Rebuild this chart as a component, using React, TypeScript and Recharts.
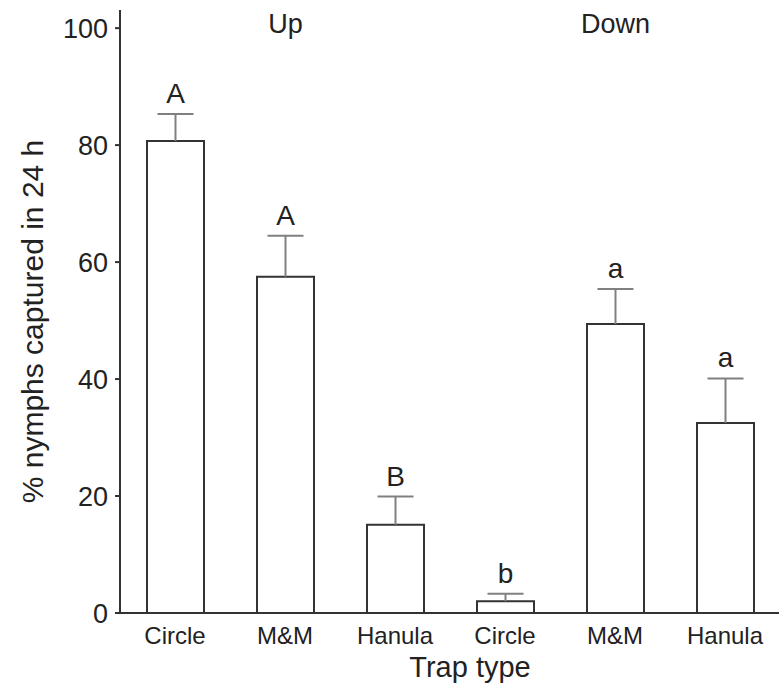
import { BarChart, Bar, XAxis, YAxis, LabelList, Label } from 'recharts'

const trapTypes = ['Circle', 'M&M', 'Hanula', 'Circle', 'M&M', 'Hanula']
const groupNames = ['', 'Up', '', '', 'Down', '']
const meanCaptured = [80.7, 57.5, 15.1, 2.0, 49.4, 32.5]
const stdError = [4.6, 7.0, 4.8, 1.3, 6.0, 7.6]
const letters = ['A', 'A', 'B', 'b', 'a', 'a']
const yTicks = [0, 20, 40, 60, 80, 100]

const FONT = '"Liberation Sans", Arial, Helvetica, sans-serif'
const INK = '#222'

const data = trapTypes.map((trap, i) => ({
  trap,
  group: groupNames[i],
  mean: meanCaptured[i],
  se: stdError[i],
  letter: letters[i],
}))

// upper whisker only, drawn as the stacked segment sitting on each bar
function Whisker(props: any) {
  const { x, y, width, height } = props
  const cx = x + width / 2
  return (
    <g stroke="#808080" strokeWidth={2}>
      <line x1={cx} y1={y + height} x2={cx} y2={y} />
      <line x1={cx - 18} y1={y} x2={cx + 18} y2={y} />
    </g>
  )
}

// "Up" / "Down" headings over the middle bar of each group
function GroupLabel(props: any) {
  const { x, width, value } = props
  if (!value) return null
  return (
    <text x={x + width / 2} y={33} textAnchor="middle" fontSize={27} fontFamily={FONT} fill={INK}>
      {value}
    </text>
  )
}

export default function App() {
  return (
    <div style={{ position: 'absolute', left: 0, top: 0, background: '#fff' }}>
      <BarChart
        width={779}
        height={688}
        data={data}
        margin={{ top: 10, right: -1, left: 0, bottom: 0 }}
      >
        <XAxis
          dataKey="trap"
          height={75}
          tickLine={false}
          tickSize={6}
          tickMargin={8}
          axisLine={{ stroke: '#333', strokeWidth: 2 }}
          tick={{ fill: INK, fontSize: 24, fontFamily: FONT }}
        >
          <Label
            content={(p: any) => {
              const vb = p.viewBox
              return (
                <text
                  x={vb.x + vb.width / 2 + 20}
                  y={677}
                  textAnchor="middle"
                  fontSize={29}
                  fontFamily={FONT}
                  fill={INK}
                >
                  Trap type
                </text>
              )
            }}
          />
        </XAxis>
        <YAxis
          width={120}
          domain={[0, 103.1]}
          ticks={yTicks}
          tickSize={5}
          tickMargin={7}
          axisLine={{ stroke: '#333', strokeWidth: 2 }}
          tickLine={{ stroke: '#333', strokeWidth: 2 }}
          tick={{ fill: INK, fontSize: 27, fontFamily: FONT }}
        >
          <Label
            content={(p: any) => {
              const vb = p.viewBox
              const cx = vb.x + 32
              const cy = vb.y + vb.height / 2 + 10
              return (
                <text
                  x={cx}
                  y={cy}
                  transform={`rotate(-90 ${cx} ${cy})`}
                  textAnchor="middle"
                  dominantBaseline="central"
                  fontSize={30}
                  fontFamily={FONT}
                  fill={INK}
                >
                  % nymphs captured in 24 h
                </text>
              )
            }}
          />
        </YAxis>
        <Bar
          dataKey="mean"
          stackId="s"
          barSize={57}
          fill="#fff"
          stroke="#333"
          strokeWidth={2}
          isAnimationActive={false}
        >
          <LabelList dataKey="group" content={<GroupLabel />} />
        </Bar>
        <Bar
          dataKey="se"
          stackId="s"
          barSize={57}
          shape={<Whisker />}
          isAnimationActive={false}
        >
          <LabelList
            dataKey="letter"
            position="top"
            offset={11}
            fill={INK}
            fontSize={28}
            fontFamily={FONT}
          />
        </Bar>
      </BarChart>
    </div>
  )
}
